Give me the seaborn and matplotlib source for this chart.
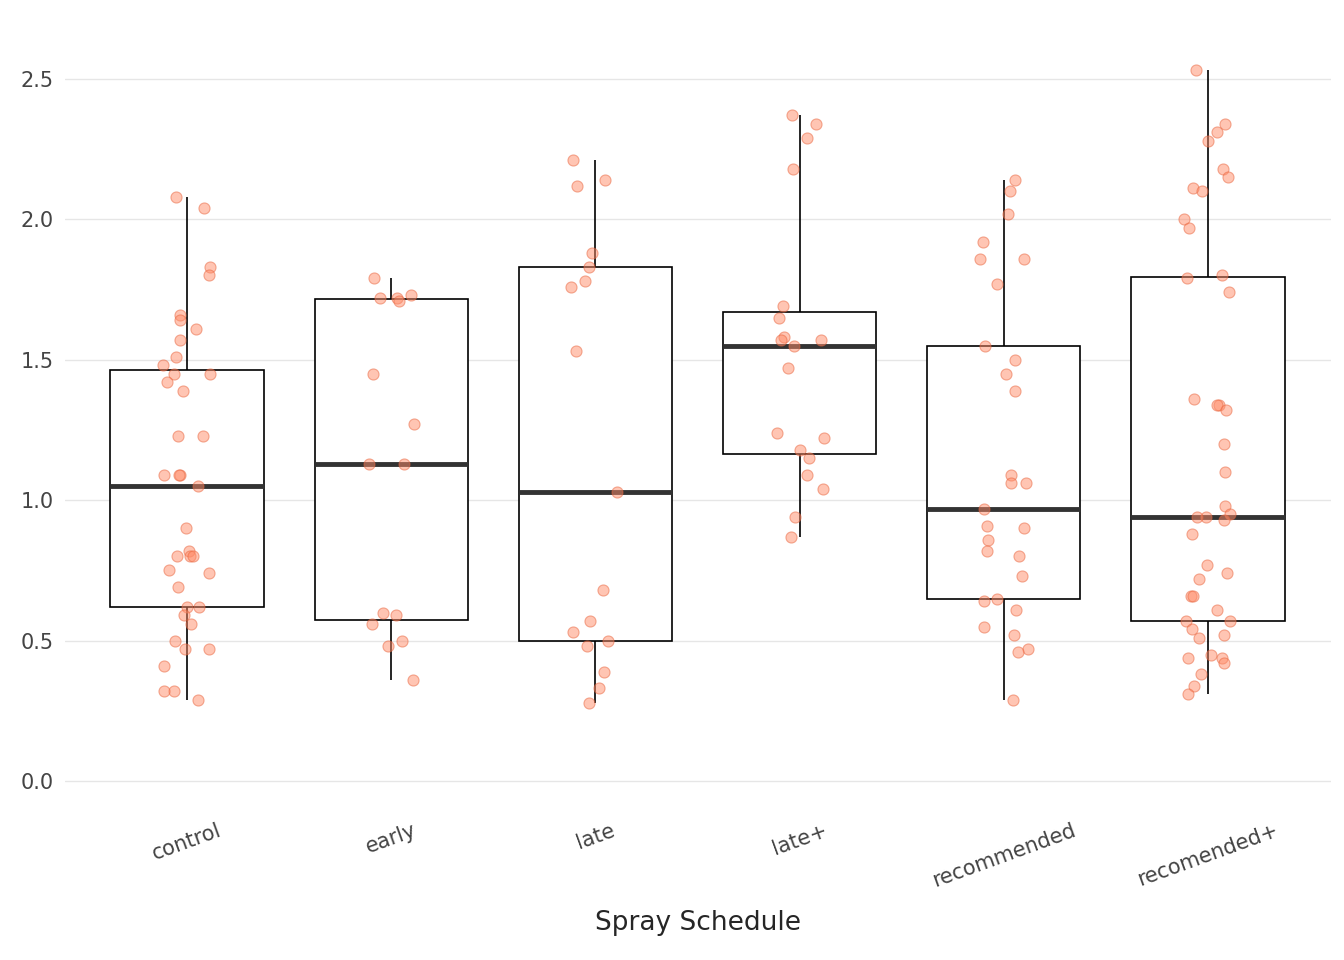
import numpy as np
import pandas as pd
import matplotlib
matplotlib.use('Agg')
import matplotlib.pyplot as plt
import seaborn as sns

# 读图估计的数值
control = [2.08, 2.04, 1.83, 1.80, 1.66, 1.64, 1.61, 1.57, 1.51, 1.48, 1.45, 1.45, 1.42, 1.39,
           1.23, 1.23, 1.09, 1.09, 1.09, 1.05, 0.90, 0.82, 0.80, 0.80, 0.80, 0.75, 0.74, 0.69,
           0.62, 0.62, 0.59, 0.56, 0.50, 0.47, 0.47, 0.41, 0.32, 0.32, 0.29]
early = [1.79, 1.73, 1.72, 1.72, 1.71, 1.45, 1.27, 1.13, 1.13, 0.60, 0.59, 0.56, 0.50, 0.48, 0.36]
late = [2.21, 2.14, 2.12, 1.88, 1.83, 1.78, 1.76, 1.53, 1.03, 0.68, 0.57, 0.53, 0.50, 0.48,
        0.39, 0.33, 0.28]
late_plus = [2.37, 2.34, 2.29, 2.18, 1.69, 1.65, 1.58, 1.57, 1.57, 1.55, 1.47, 1.24, 1.22,
             1.18, 1.15, 1.09, 1.04, 0.94, 0.87]
recommended = [2.14, 2.10, 2.02, 1.92, 1.86, 1.86, 1.77, 1.55, 1.50, 1.45, 1.39, 1.09, 1.06,
               1.06, 0.97, 0.91, 0.90, 0.86, 0.82, 0.80, 0.73, 0.65, 0.64, 0.61, 0.55, 0.52,
               0.47, 0.46, 0.29]
recomended_plus = [2.53, 2.34, 2.31, 2.28, 2.18, 2.15, 2.11, 2.10, 2.00, 1.97, 1.80, 1.79,
                   1.74, 1.36, 1.34, 1.34, 1.32, 1.20, 1.10, 0.98, 0.95, 0.94, 0.94, 0.93,
                   0.88, 0.77, 0.74, 0.72, 0.66, 0.66, 0.61, 0.57, 0.57, 0.54, 0.52, 0.51,
                   0.45, 0.44, 0.44, 0.42, 0.38, 0.34, 0.31]

categories = ['control', 'early', 'late', 'late+', 'recommended', 'recomended+']
groups = [control, early, late, late_plus, recommended, recomended_plus]

df = pd.DataFrame({
    'schedule': np.repeat(categories, [len(g) for g in groups]),
    'value': np.concatenate(groups),
})

sns.set_style('white')
plt.rcParams['font.family'] = ['DejaVu Sans']

fig, ax = plt.subplots(figsize=(13.44, 9.6), dpi=100)
sns.boxplot(data=df, x='schedule', y='value', order=categories, whis=(0, 100),
            width=0.75, showfliers=False, ax=ax,
            boxprops={'facecolor': 'white', 'edgecolor': 'black', 'linewidth': 1.2},
            whiskerprops={'color': 'black', 'linewidth': 1.2},
            capprops={'visible': False},
            medianprops={'color': '#333333', 'linewidth': 3.5})
sns.stripplot(data=df, x='schedule', y='value', order=categories, jitter=0.12,
              color='#FF8C69', alpha=0.5, size=8, edgecolor='#E8623A', linewidth=0.8,
              ax=ax, zorder=5)

ax.set_xlim(-0.6, 5.6)
ax.set_ylim(-0.1, 2.62)
ax.set_yticks([0.0, 0.5, 1.0, 1.5, 2.0, 2.5])
ax.set_yticklabels(['0.0', '0.5', '1.0', '1.5', '2.0', '2.5'])
ax.grid(axis='y', color='#e6e6e6', linewidth=1)
ax.set_axisbelow(True)
for s in ax.spines.values():
    s.set_visible(False)
ax.tick_params(axis='both', length=0, labelsize=15, colors='#444444', pad=8)
plt.setp(ax.get_xticklabels(), rotation=20)
ax.set_xlabel('Spray Schedule', fontsize=19, labelpad=14)
ax.set_ylabel('')
plt.subplots_adjust(left=0.048, right=0.99, top=0.953, bottom=0.157)
plt.savefig('out.png', dpi=100)
